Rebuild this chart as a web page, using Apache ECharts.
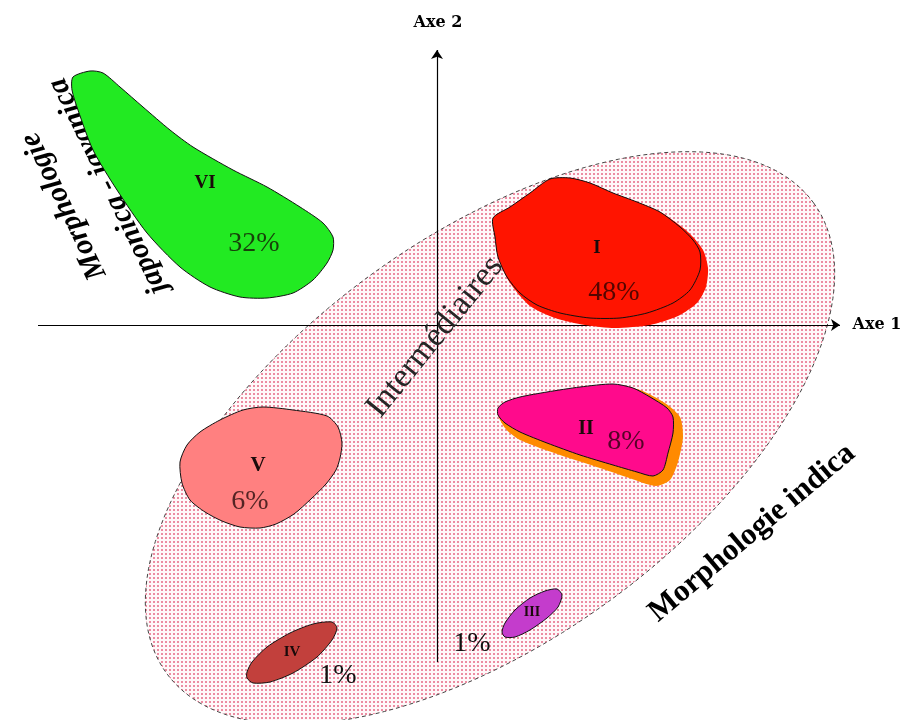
<!DOCTYPE html>
<html><head><meta charset="utf-8">
<script src="https://cdn.jsdelivr.net/npm/echarts@6/dist/echarts.min.js"></script>
<style>html,body{margin:0;padding:0;background:#fff}#c{width:906px;height:720px}</style>
</head><body><div id="c"></div>
<script>
// ---------- data (drawing units = page pixels, y downward) ----------
// dotted "intermediate" zone: centre x, centre y, semi-axis a, semi-axis b, tilt (deg)
const zoneEllipse = [490, 438, 400, 202, 36];

// principal axes: start and end points
const axis1 = [[38, 325], [840, 325]];
const axis2 = [[437, 662], [437, 50]];
const axisNames = ['Axe 1', 'Axe 2'];
const axisNamePos = [[877, 325], [438, 23]];

// groups (outline vertices)
const groupNames = ['I', 'II', 'III', 'IV', 'V', 'VI'];
const groupShares = ['48%', '8%', '1%', '1%', '6%', '32%'];
const blobI = [[493,218],[510,207],[530,193],[550,179],[570,178],[590,183],[613,193],[637,202],[660,212],[680,227],[693,240],[700,252],[700,270],[690,290],[673,303],[647,313],[620,318],[590,318],[560,313],[537,305],[520,293],[507,277],[498,257],[495,237]];
const shadowI = [[493,218],[510,207],[530,193],[550,179],[570,178],[590,183],[613,193],[637,202],[662,213],[688,232],[703,250],[708,268],[706,287],[697,303],[678,316],[650,325],[615,328],[585,325],[555,318],[530,306],[510,283],[498,257],[495,237]];
const blobII = [[498,408],[505,402],[520,397],[547,392],[580,387],[613,384],[633,388],[650,397],[667,408],[673,417],[673,433],[668,453],[663,470],[653,476],[637,472],[613,465],[580,455],[547,443],[520,432],[505,423],[498,415]];
const shadowII = [[498,410],[547,393],[613,385],[640,390],[665,403],[680,417],[683,437],[678,462],[670,480],[656,486],[635,480],[600,468],[560,455],[520,440],[505,428]];
const blobIII = [[502,632],[505,623],[515,610],[530,598],[545,591],[557,589],[562,595],[558,607],[547,618],[530,630],[515,637],[505,637]];
const blobIV = [[247,672],[252,662],[267,647],[290,633],[313,624],[332,622],[337,628],[332,640],[317,657],[293,673],[270,682],[253,683],[247,678]];
const blobV = [[180,462],[187,445],[200,432],[220,420],[243,410],[263,407],[293,410],[327,416],[338,427],[342,443],[340,458],[336,470],[326,484],[311,499],[294,514],[276,524],[260,528],[240,527],[222,521],[205,512],[190,500],[182,483]];
const blobVI = [[73,77],[90,71],[103,73],[120,87],[143,107],[170,130],[193,147],[233,170],[267,187],[300,207],[323,223],[333,237],[333,250],[327,263],[313,280],[293,293],[267,298],[240,297],[210,287],[180,267],[147,233],[117,190],[93,150],[78,110],[72,90]];

// label anchor points (roman numeral, percentage) per group
const namePos = [[597,248],[586,429],[532,612],[292,652],[258,466],[205,183]];
const sharePos = [[614,293],[626,442],[472,644],[338,676],[250,502],[254,244]];

// zone titles
const zoneTitles = ['Intermédiaires', 'Morphologie indica', 'Morphologie', 'japonica - javanica'];
const zoneTitlePos = [[435,337],[752,533],[64,206],[108,186]];
const zoneTitleAngle = [51, 40.1, 116, 116];

// ---------- drawing ----------
const dotTile = document.createElement('canvas');
dotTile.width = 4; dotTile.height = 4;
(function(){
  const g = dotTile.getContext('2d');
  g.fillStyle = 'rgb(255,248,249)'; g.fillRect(0,0,4,4);
  g.fillStyle = 'rgba(222,62,98,0.58)'; g.fillRect(1,1,2,2);
})();

const chart = echarts.init(document.getElementById('c'), null, {renderer:'canvas', devicePixelRatio:1});

function polySeries(pts, style, z) {
  return {
    type:'custom', coordinateSystem:'cartesian2d', clip:false, z: z || 2, silent:true,
    data:[[pts[0][0], pts[0][1]]],
    renderItem: function(params, api){
      return {type:'polygon', shape:{points: pts.map(p => api.coord(p)), smooth:0.25}, style: style};
    }
  };
}
function ellipseSeries() {
  return {
    type:'custom', coordinateSystem:'cartesian2d', clip:false, z:1, silent:true,
    data:[[zoneEllipse[0], zoneEllipse[1]]],
    renderItem: function(params, api){
      const [cx, cy, a, b, deg] = zoneEllipse;
      const t = -deg*Math.PI/180;
      const pts = [];
      for (let i=0;i<180;i++){
        const u = i/180*Math.PI*2;
        const ex = a*Math.cos(u), ey = b*Math.sin(u);
        pts.push(api.coord([cx + ex*Math.cos(t) - ey*Math.sin(t), cy + ex*Math.sin(t) + ey*Math.cos(t)]));
      }
      return {type:'polygon', shape:{points:pts}, style:{fill:{image:dotTile, repeat:'repeat'}, stroke:'#444', lineWidth:1, lineDash:[4,3]}};
    }
  };
}
function textSeries(items, z) {
  // items: [x, y, text, font, color, angleDeg]
  return {
    type:'custom', coordinateSystem:'cartesian2d', clip:false, z: z, silent:true,
    data: items.map(it => [it[0], it[1]]),
    renderItem: function(params, api){
      const it = items[params.dataIndex];
      const p = api.coord([it[0], it[1]]);
      return {type:'text', x:p[0], y:p[1], rotation:(it[5]||0)*Math.PI/180,
        style:{text:it[2], font:it[3], fill:it[4], align:'center', verticalAlign:'middle', textAlign:'center', textVerticalAlign:'middle'}};
    }
  };
}

const serif = '"Liberation Serif", "DejaVu Serif", serif';
const blobs = [blobI, blobII, blobIII, blobIV, blobV, blobVI];
const blobFill = ['#ff1400', '#ff0a8c', '#c43ccc', '#c2403c', '#ff8080', '#22ea22'];

const titleItems = zoneTitles.map((t,i) => {
  const fonts = ['34px '+serif, 'bold 31px '+serif, 'italic bold 30px '+serif, 'italic bold 30px '+serif];
  const cols = ['#262626', '#000', '#000', '#000'];
  return [zoneTitlePos[i][0], zoneTitlePos[i][1], t, fonts[i], cols[i], zoneTitleAngle[i]];
});
const nameSizes = [19, 20, 14, 15, 21, 19];
const labelItems = [];
groupNames.forEach((n,i) => labelItems.push([namePos[i][0], namePos[i][1], n, 'bold '+nameSizes[i]+'px '+serif, '#1a0a0a']));
groupShares.forEach((s,i) => {
  const onBlob = !(i===2 || i===3);
  labelItems.push([sharePos[i][0], sharePos[i][1], s, '28px '+serif, onBlob ? 'rgba(20,0,0,0.72)' : '#111']);
});
axisNames.forEach((n,i) => labelItems.push([axisNamePos[i][0], axisNamePos[i][1], n, 'bold 16px "DejaVu Serif", serif', '#000']));

const series = [ellipseSeries()];
series.push({
  type:'lines', coordinateSystem:'cartesian2d', z:3, silent:true,
  symbol:['none','arrow'], symbolSize:[0,9],
  lineStyle:{color:'#000', width:1.2, opacity:1},
  data:[{coords:axis1},{coords:axis2}]
});
// titles under the blobs
series.push(textSeries(titleItems.slice(0,2), 4));
series.push(textSeries(titleItems.slice(2), 4));
series.push(polySeries(shadowI, {fill:'#ff1400'}, 5));
series.push(polySeries(shadowII, {fill:'#ff8a00'}, 5));
blobs.forEach((b,i) => series.push(polySeries(b, {fill:blobFill[i], stroke:'#111', lineWidth:1}, 6)));
series.push(textSeries(labelItems, 8));

chart.setOption({
  animation:false,
  backgroundColor:'#fff',
  grid:{left:0, right:0, top:0, bottom:0},
  xAxis:{type:'value', min:0, max:906, show:false},
  yAxis:{type:'value', min:0, max:720, inverse:true, show:false},
  series: series
});
</script></body></html>
